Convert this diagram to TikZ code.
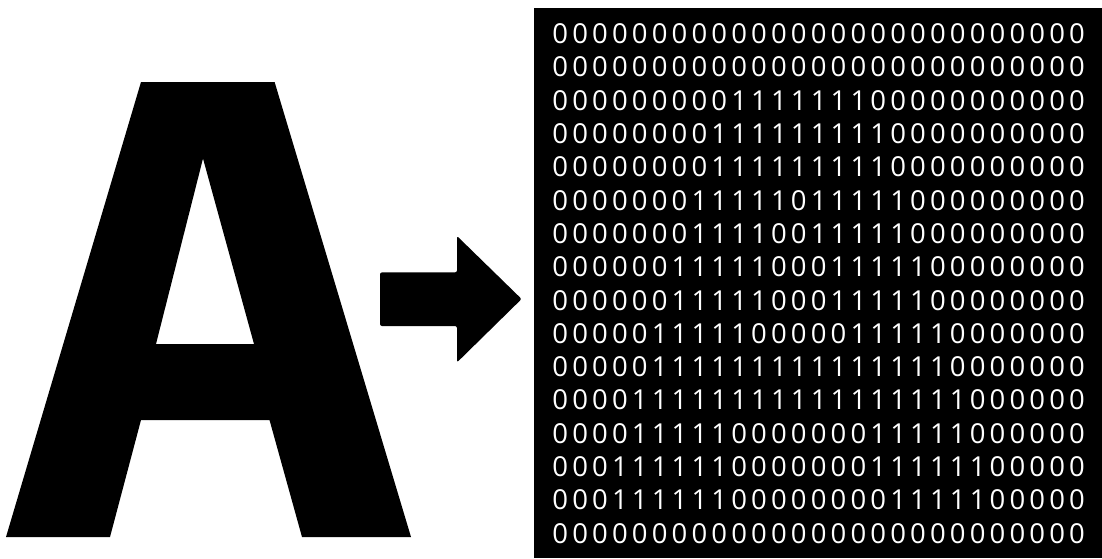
\documentclass[tikz,border=0pt]{standalone}
\usepackage{fontspec}
\newfontfamily\digitfont{Open Sans}
\newcommand\bitcell[1]{\makebox[19.87pt]{#1}}
\def\bitsloop#1{\ifx#1\relax\else\bitcell{#1}\expandafter\bitsloop\fi}
\newcommand\bitrow[1]{\bitsloop#1\relax}
\tikzset{
  glyph/.style={fill=black, draw=none},
  bitrowstyle/.style={anchor=west, inner sep=0pt, outer sep=0pt, text=white,
    font=\digitfont\fontsize{27.5}{27.5}\selectfont},
  panel/.style={fill=black, draw=none}
}
\begin{document}
\begin{tikzpicture}[x=1pt,y=-1pt]
  \useasboundingbox (0,0) rectangle (1102,558);
  \fill[white] (0,0) rectangle (1102,558);
  % letter A
  \fill[glyph, even odd rule]
    (141,82) -- (274.6,82) -- (411,537) -- (302,537) -- (269.5,420) -- (141,420) -- (110,537) -- (6,537) -- cycle
    (203,158.5) -- (254,344) -- (156,344) -- cycle;
  % arrow
  \fill[glyph, rounded corners=2pt]
    (380,272.4) -- (457,272.4) -- (457,236) -- (521.6,299) -- (457,362.4) -- (457,326) -- (380,326) -- cycle;
  % binary panel
  \fill[panel] (534,7.5) rectangle (1102,558);
  \foreach \r/\bits [count=\i from 0] in {
    1/000000000000000000000000000,
    2/000000000000000000000000000,
    3/000000000111111100000000000,
    4/000000001111111110000000000,
    5/000000001111111110000000000,
    6/000000011111011111000000000,
    7/000000011110011111000000000,
    8/000000111110001111100000000,
    9/000000111110001111100000000,
    10/000001111100000111110000000,
    11/000001111111111111110000000,
    12/000011111111111111111000000,
    13/000011111000000011111000000,
    14/000111111000000011111100000,
    15/000111111000000001111100000,
    16/000000000000000000000000000}
    \node[bitrowstyle] (row\r) at (550.37, 33.8+33.3*\i) {\expandafter\bitrow\expandafter{\bits}};
\end{tikzpicture}
\end{document}
